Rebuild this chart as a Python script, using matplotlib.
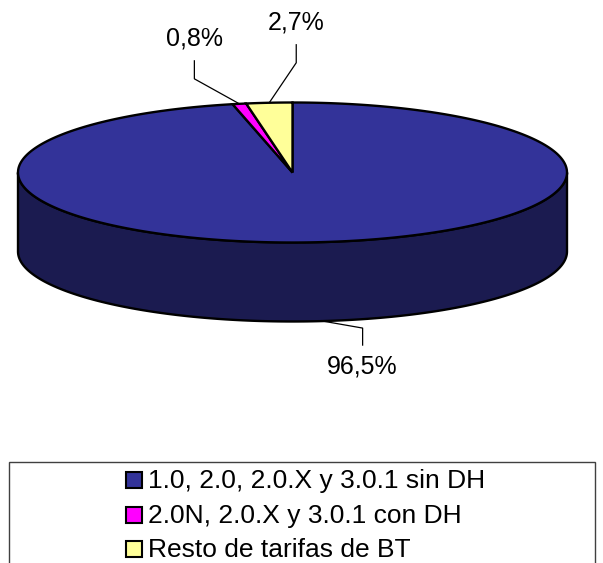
import numpy as np
import matplotlib.pyplot as plt
from matplotlib.patches import Polygon, Rectangle

# datos del grafico
categorias = ["1.0, 2.0, 2.0.X y 3.0.1 sin DH",
              "2.0N, 2.0.X y 3.0.1 con DH",
              "Resto de tarifas de BT"]
valores = [96.5, 0.8, 2.7]
etiquetas = ["96,5%", "0,8%", "2,7%"]
colores = ["#333399", "#FF00FF", "#FFFF99"]

# geometria del pastel (pixeles)
CX, CY = 292.5, 172.5
RX, RY = 274.5, 70.0
PROF = 79.0


def Punto(ang, dy=0.0):
    """Punto del borde de la elipse, angulo en grados desde arriba, horario."""
    t = np.radians(ang)
    return CX + RX * np.sin(t), CY - RY * np.cos(t) + dy


def Oscuro(color, f=0.5):
    c = np.array(plt.matplotlib.colors.to_rgb(color))
    return tuple(c * f)


def Graficar():
    fig = plt.figure(figsize=(6.03, 5.63), dpi=100)
    ax = fig.add_axes([0, 0, 1, 1])
    ax.set_xlim(0, 603)
    ax.set_ylim(563, 0)
    ax.axis('off')

    total = float(sum(valores))
    angs = np.cumsum([0] + [v / total * 360.0 for v in valores])

    # pared lateral (solo la mitad delantera)
    for i in range(len(valores)):
        a0 = max(angs[i], 90.0)
        a1 = min(angs[i + 1], 270.0)
        if a1 <= a0:
            continue
        th = np.linspace(a0, a1, 200)
        arriba = [Punto(a) for a in th]
        abajo = [Punto(a, PROF) for a in th[::-1]]
        ax.add_patch(Polygon(arriba + abajo, closed=True,
                             facecolor=Oscuro(colores[i], 0.52),
                             edgecolor='black', linewidth=1.7, zorder=1))

    # caras superiores
    for i in range(len(valores)):
        th = np.linspace(angs[i], angs[i + 1], 400)
        pts = [(CX, CY)] + [Punto(a) for a in th]
        ax.add_patch(Polygon(pts, closed=True, facecolor=colores[i],
                             edgecolor='black', linewidth=1.7,
                             joinstyle='miter', zorder=2))

    # etiquetas con lineas guia
    # (dx, dy) de la etiqueta respecto al punto medio del arco
    desp = [(40, 45), (-45, -65), (27, -80)]
    for i in range(len(valores)):
        am = (angs[i] + angs[i + 1]) / 2.0
        if 90 < am < 270:
            x0, y0 = Punto(am, PROF)
        else:
            x0, y0 = Punto(am)
        tx, ty = x0 + desp[i][0], y0 + desp[i][1]
        if ty > y0:
            codo = ty - 38
            fin = ty - 21
            ax.plot([x0, tx, tx], [y0, codo, fin], color='black', lw=0.9, zorder=3)
        else:
            codo = ty + 40
            fin = ty + 22
            ax.plot([x0, tx, tx], [y0, codo, fin], color='black', lw=0.9, zorder=3)
        ax.text(tx, ty, etiquetas[i], fontsize=18, family='Liberation Sans',
                ha='center', va='center', zorder=4)

    # leyenda
    ax.add_patch(Rectangle((9, 461.5), 586, 120, facecolor='white',
                           edgecolor='#404040', linewidth=1.0, clip_on=False, zorder=5))
    for i, nom in enumerate(categorias):
        yc = 480 + i * 34.5
        ax.add_patch(Rectangle((125.5, yc - 8), 16, 16, facecolor=colores[i],
                               edgecolor='black', linewidth=1.5, zorder=6))
        ax.text(148, yc + 1, nom, fontsize=19, family='Liberation Sans',
                ha='left', va='center', zorder=6)

    fig.savefig("out.png", dpi=100)


def main():
    Graficar()


if __name__ == "__main__":
    main()
